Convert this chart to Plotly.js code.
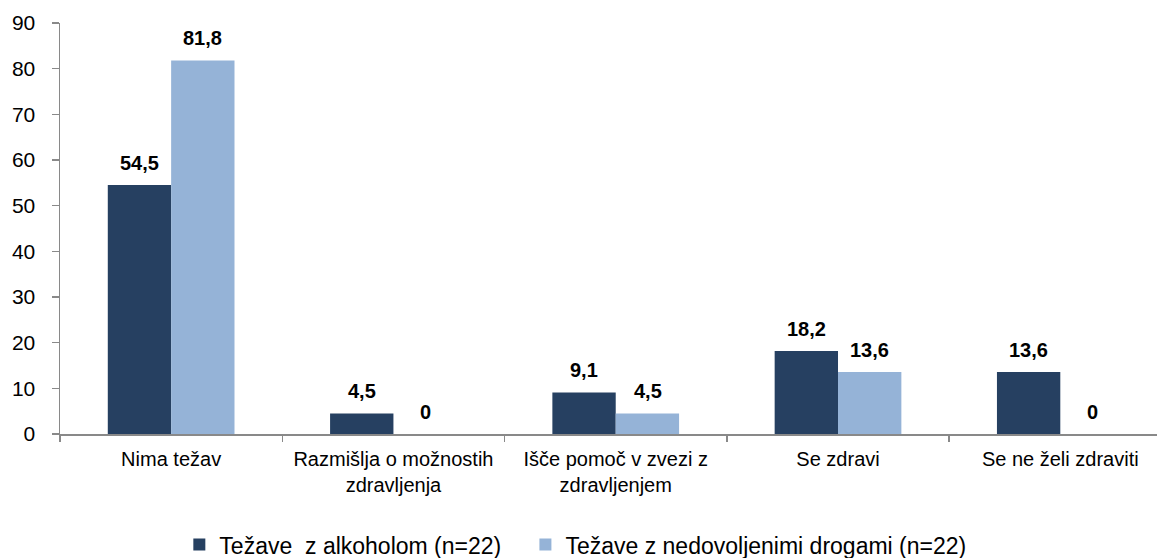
<!DOCTYPE html>
<html>
<head>
<meta charset="utf-8">
<script src="https://cdn.plot.ly/plotly-3.0.1.min.js"></script>
<style>html,body{margin:0;padding:0;background:#fff;}#chart{width:1157px;height:558px;}</style>
</head>
<body>
<div id="chart"></div>
<script>
const categories = ["Nima težav", "Razmišlja o možnostih<br>zdravljenja", "Išče pomoč v zvezi z<br>zdravljenjem", "Se zdravi", "Se ne želi zdraviti"];
const seriesNames = ["Težave\u00a0 z alkoholom (n=22)", "Težave z nedovoljenimi drogami (n=22)"];
const alcohol = [54.5, 4.5, 9.1, 18.2, 13.6];
const drugs = [81.8, 0, 4.5, 13.6, 0];
const yTicks = [0, 10, 20, 30, 40, 50, 60, 70, 80, 90];

const colors = ["#264061", "#95B3D7"];
const fmt = v => String(v).replace(".", ",");
const FONT = "Liberation Sans, Arial, sans-serif";
const legendPad = "\u00a0\u00a0\u00a0";

const traces = [alcohol, drugs].map((vals, i) => ({
  type: "bar",
  x: categories,
  y: vals,
  name: seriesNames[i] + (i === 0 ? legendPad : ""),
  marker: {color: colors[i]},
  hoverinfo: "none"
}));

const annotations = [];
[alcohol, drugs].forEach((vals, i) => {
  vals.forEach((v, j) => {
    annotations.push({
      x: j + (i === 0 ? -0.143 : 0.143),
      xref: "x",
      y: v,
      yref: "y",
      text: "<b>" + fmt(v) + "</b>",
      showarrow: false,
      yanchor: "bottom",
      yshift: 9,
      font: {family: FONT, size: 20, color: "#000"}
    });
  });
});

const layout = {
  width: 1157,
  height: 558,
  margin: {l: 60, r: 0, t: 23, b: 124, autoexpand: false},
  paper_bgcolor: "#fff",
  plot_bgcolor: "#fff",
  barmode: "group",
  bargap: 0.43,
  bargroupgap: 0,
  showlegend: true,
  legend: {
    orientation: "h",
    xref: "container",
    yref: "container",
    x: 0.155, xanchor: "left",
    y: 0.024, yanchor: "middle",
    font: {family: FONT, size: 23, color: "#000"},
    itemwidth: 30,
    tracegroupgap: 0,
    traceorder: "normal"
  },
  xaxis: {
    type: "category",
    range: [-0.5, 4.435],
    showline: true,
    linecolor: "#898989",
    linewidth: 1.5,
    ticks: "outside",
    tickson: "boundaries",
    ticklen: 6,
    tickcolor: "#898989",
    tickwidth: 1.5,
    showgrid: false,
    zeroline: false,
    ticklabelstandoff: 6,
    tickfont: {family: FONT, size: 20, color: "#000"}
  },
  yaxis: {
    range: [0, 90],
    tickvals: yTicks,
    ticktext: yTicks.map(String),
    showline: true,
    linecolor: "#898989",
    linewidth: 1.5,
    ticks: "outside",
    ticklen: 7,
    tickcolor: "#898989",
    tickwidth: 1.5,
    showgrid: false,
    zeroline: false,
    ticklabelstandoff: 12,
    tickfont: {family: FONT, size: 21, color: "#000"}
  },
  annotations: annotations
};

Plotly.newPlot("chart", traces, layout, {displayModeBar: false, staticPlot: true});
</script>
</body>
</html>
